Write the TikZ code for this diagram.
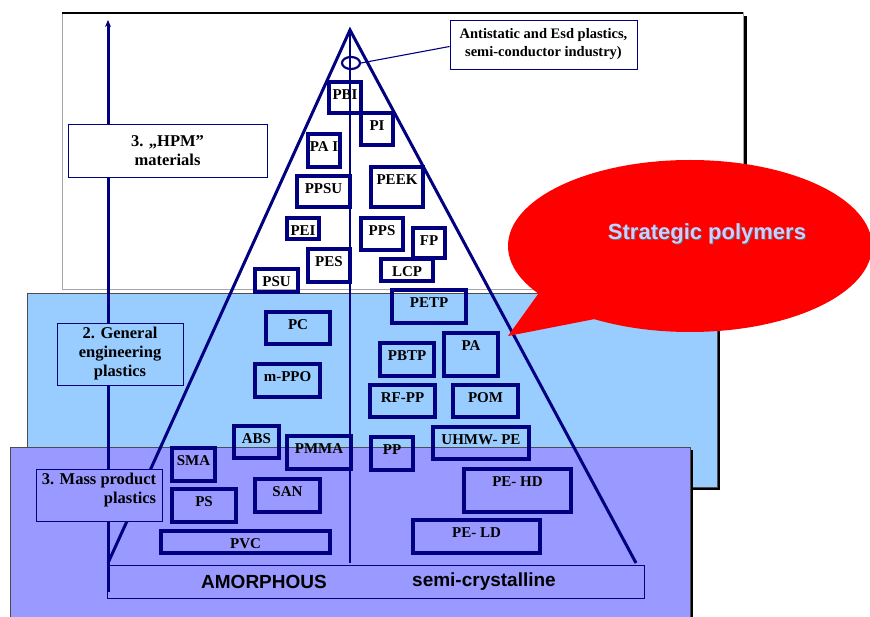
\documentclass[tikz,border=0pt]{standalone}
\usepackage{fontspec}
\setmainfont{Liberation Serif}
\newfontfamily\sansfam{Liberation Sans}
\usetikzlibrary{arrows.meta,shapes.geometric}
\definecolor{navy}{RGB}{0,0,128}
\definecolor{skyblue}{RGB}{153,204,255}
\definecolor{lilac}{RGB}{153,153,255}
\definecolor{lavtext}{RGB}{205,205,255}
\definecolor{bubblered}{RGB}{255,0,0}
\tikzset{
  pbox/.style={draw=navy, line width=3.6pt},
  plabel/.style={font=\bfseries\fontsize{15}{17}\selectfont, inner sep=0pt},
  levelbox/.style={draw=navy, line width=0.9pt, align=center, inner sep=0pt,
    font=\bfseries\fontsize{16.5}{19}\selectfont},
  triline/.style={draw=navy, line width=3pt, line join=miter},
  baselabel/.style={font=\sansfam\bfseries\fontsize{19}{21}\selectfont, inner sep=0pt},
}
\newcommand\polyitem[6]{%
  \draw[pbox] (#2,#3) rectangle (#4,#5);
  \node[plabel] (#1) at ({(#2+#4)/2},{#3+13}) {#6};}
\begin{document}
\begin{tikzpicture}[x=1pt,y=-1pt]
\useasboundingbox (0,0) rectangle (870,617);
\begin{scope}
\clip (0,0) rectangle (870,617);
% top white frame
\fill[black] (743.5,16) rectangle (746.5,292);
\filldraw[fill=white, draw=gray!70, line width=1pt] (62,13) rectangle (743,290);
\draw[black, line width=1.2pt] (62,13) -- (743,13);
% blue region
\fill[black] (30,296) rectangle (720,490);
\filldraw[fill=skyblue, draw=gray!60!black, line width=0.8pt] (27,293) rectangle (717,487);
% purple region
\fill[black] (13,450) rectangle (693,630);
\filldraw[fill=lilac, draw=gray!60!black, line width=0.8pt] (10,447) rectangle (690,630);
\end{scope}
% vertical arrow
\coordinate (abot) at (108,592);
\coordinate (atop) at (108,20);
\draw[navy, line width=3pt, -{Stealth[length=7pt,width=6pt]}] (abot) -- (atop);
% pyramid
\coordinate (apex) at (350,30);
\coordinate (bl) at (108,563);
\coordinate (br) at (636,563);
\coordinate (cbot) at (350,563);
\draw[triline] (bl) -- (apex) -- (br);
\draw[navy, line width=1.1pt] (apex) -- (cbot);
% esd ellipse and callout
\node[draw=navy, line width=2.2pt, ellipse, minimum width=18pt, minimum height=12pt, inner sep=0pt] (esd) at (351,63) {};
\node[draw=navy, line width=0.9pt, fill=white, minimum width=187pt, minimum height=49pt, align=center, inner sep=0pt,
  font=\bfseries\fontsize{14.5}{18}\selectfont] (callout) at (543.5,44.5)
  {Antistatic and Esd plastics,\\semi-conductor industry)};
\draw[navy, line width=1.1pt] (esd.east) -- ([yshift=-2pt]callout.west);
% level boxes
\node[levelbox, fill=white, minimum width=199pt, minimum height=53pt] (hpm) at (167.5,150.5)
  {3. „HPM”\\materials};
\node[levelbox, fill=skyblue, minimum width=126pt, minimum height=62pt] (gen) at (120,354)
  {2. General\\engineering\\plastics};
\node[levelbox, fill=lilac, minimum width=126pt, minimum height=52pt] (mass) at (99,495) {};
\node[font=\bfseries\fontsize{16.5}{19}\selectfont, align=right, inner sep=0pt] (masstext) at (99,490)
  {3. Mass product\\plastics};
% polymer boxes
\polyitem{pbi}{329}{82}{361}{113}{PBI}
\polyitem{pi}{361}{113}{393}{145}{PI}
\polyitem{pai}{308}{134}{340}{167}{PA I}
\polyitem{ppsu}{297}{176}{350}{207}{PPSU}
\polyitem{peek}{371}{167}{423}{207}{PEEK}
\polyitem{pei}{287}{218}{319}{239}{PEI}
\polyitem{pps}{361}{218}{403}{250}{PPS}
\polyitem{fp}{413}{228}{445}{258}{FP}
\polyitem{pes}{308}{249}{350}{282}{PES}
\polyitem{lcp}{381}{259}{433}{281}{LCP}
\polyitem{psu}{255}{269}{298}{292}{PSU}
\polyitem{petp}{392}{290}{466}{323}{PETP}
\polyitem{pc}{266}{312}{330}{344}{PC}
\polyitem{pa}{444}{333}{498}{376}{PA}
\polyitem{pbtp}{380}{343}{434}{376}{PBTP}
\polyitem{mppo}{255}{364}{320}{397}{m-PPO}
\polyitem{rfpp}{370}{385}{435}{417}{RF-PP}
\polyitem{pom}{453}{385}{518}{417}{POM}
\polyitem{abs}{234}{426}{279}{458}{ABS}
\polyitem{pmma}{287}{436}{351}{469}{PMMA}
\polyitem{pp}{371}{437}{413}{470}{PP}
\polyitem{uhmw}{433}{427}{529}{459}{UHMW- PE}
\polyitem{sma}{172}{448}{215}{481}{SMA}
\polyitem{ps}{172}{489}{236}{522}{PS}
\polyitem{san}{255}{479}{320}{512}{SAN}
\polyitem{pvc}{161}{531}{330}{553}{PVC}
\polyitem{pehd}{464}{469}{571}{512}{PE- HD}
\polyitem{peld}{413}{520}{540}{553}{PE- LD}
% base box
\node[draw=navy, line width=0.9pt, minimum width=537pt, minimum height=33pt, inner sep=0pt] (base) at (375.5,581.5) {};
\node[baselabel] (amorph) at (264,582) {AMORPHOUS};
\node[baselabel] (semi) at (484,582) {semi-crystalline};
% strategic polymers bubble
\fill[bubblered] (690,246) ellipse [x radius=182, y radius=86];
\fill[bubblered] (541,290) -- (508,336) -- (600,318) -- cycle;
\node[font=\sansfam\bfseries\fontsize{22}{24}\selectfont, text=gray!80!black, inner sep=0pt] at (708,235) {Strategic polymers};
\node[font=\sansfam\bfseries\fontsize{22}{24}\selectfont, text=lavtext, inner sep=0pt] (strat) at (707,234) {Strategic polymers};
\end{tikzpicture}
\end{document}
